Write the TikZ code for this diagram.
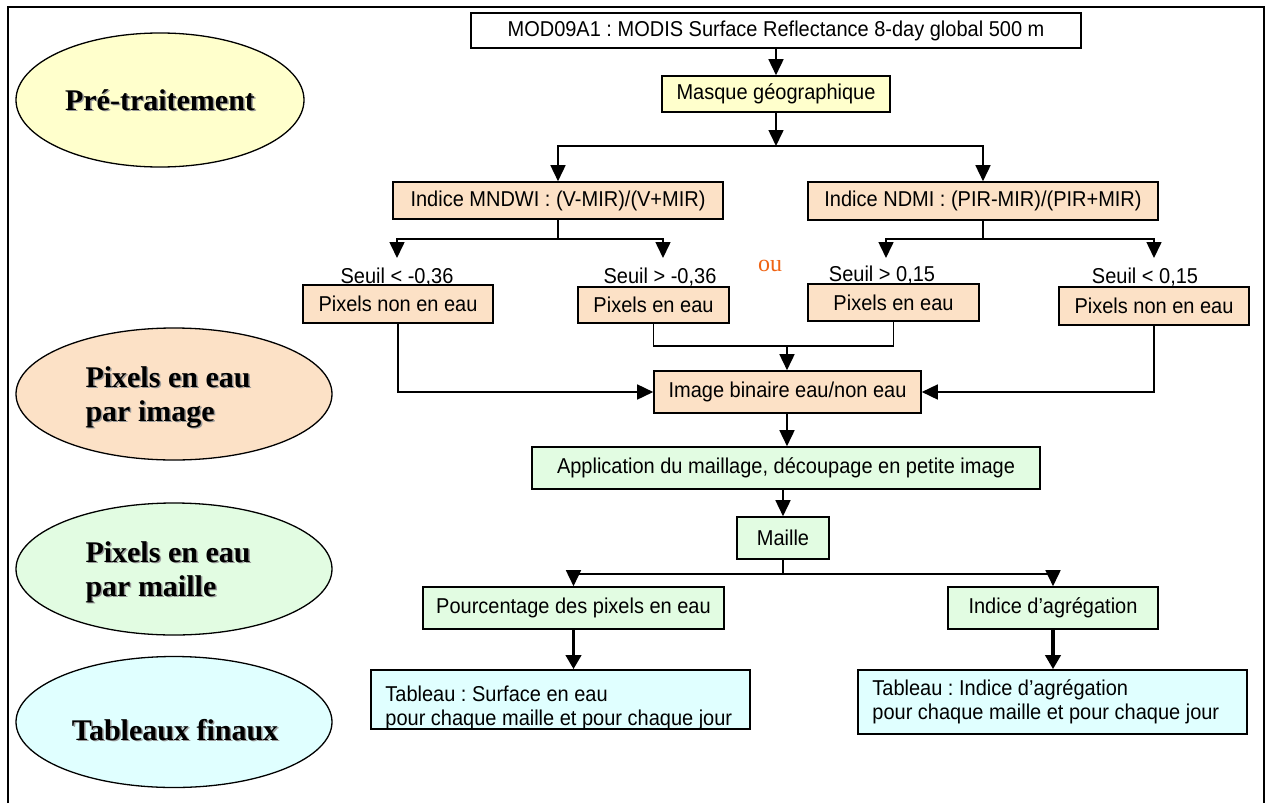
\documentclass[tikz,border=0pt]{standalone}
\usepackage{fontspec}
\setmainfont{Liberation Serif}
\setsansfont{Liberation Sans}
\newfontfamily\boxfont{Liberation Sans}[FakeStretch=0.93]
\usetikzlibrary{arrows.meta,shapes.geometric,calc}
\definecolor{cyel}{RGB}{255,255,204}
\definecolor{cpea}{RGB}{252,225,198}
\definecolor{cgre}{RGB}{226,252,226}
\definecolor{ccya}{RGB}{224,255,255}
\definecolor{cora}{RGB}{240,100,20}
\AtBeginDocument{\frenchspacing}
\begin{document}
\begin{tikzpicture}[x=1pt,y=-1pt,
  box/.style={draw, line width=1.6pt, inner sep=0pt, font=\boxfont\fontsize{21.5}{24}\selectfont\frenchspacing},
  phase/.style={draw, ellipse, line width=1.3pt, inner sep=0pt},
  phtxt/.style={font=\rmfamily\bfseries\fontsize{30}{34}\selectfont, align=left, inner sep=0pt},
  shad/.style={phtxt, text=black!40},
  lbl/.style={font=\boxfont\fontsize{21.5}{24}\selectfont\frenchspacing, inner sep=0pt},
  conn/.style={line width=1.6pt},
  arr/.style={conn, -{Triangle[width=15pt,length=16pt]}},
  tarr/.style={line width=3.5pt, -{Triangle[width=15pt,length=14pt]}},
]
\useasboundingbox (0,0) rectangle (1268,803);
\fill[white] (0,0) rectangle (1268,803);
% frame
\draw[line width=1.3pt] (8,803) -- (8,7) -- (1264,7) -- (1264,803);

% phase ellipses
\node[phase, fill=cyel, minimum width=288pt, minimum height=134pt] (pre) at (160,100) {};
\node[phase, fill=cpea, minimum width=316pt, minimum height=132pt] (pim) at (174,394) {};
\node[phase, fill=cgre, minimum width=316pt, minimum height=132pt] (pma) at (174,569) {};
\node[phase, fill=ccya, minimum width=316pt, minimum height=131pt] (tfi) at (174,722) {};

\node[shad] at ($(pre)+(1.5,1.5)$) {Pré-traitement};
\node[phtxt] (pret) at (pre) {Pré-traitement};
\node[shad] at ($(pim)+(-4.5,4.5)$) {Pixels en eau\\par image};
\node[phtxt] (pimt) at ($(pim)+(-6,3)$) {Pixels en eau\\par image};
\node[shad] at ($(pma)+(-4.5,4.5)$) {Pixels en eau\\par maille};
\node[phtxt] (pmat) at ($(pma)+(-6,3)$) {Pixels en eau\\par maille};
\node[shad] at ($(tfi)+(2.5,9.5)$) {Tableaux finaux};
\node[phtxt] (tfit) at ($(tfi)+(1,8)$) {Tableaux finaux};

% boxes
\node[box, fill=white, minimum width=610pt, minimum height=35pt] (mod) at (776,30.5) {MOD09A1 : MODIS Surface Reflectance 8-day global 500 m};
\node[box, fill=cyel, minimum width=228pt, minimum height=36pt] (mas) at (776,94) {Masque géographique};
\node[box, fill=cpea, minimum width=330pt, minimum height=37pt] (mnd) at (558,200.5) {Indice MNDWI : (V-MIR)/(V+MIR)};
\node[box, fill=cpea, minimum width=350pt, minimum height=38pt] (ndm) at (983,201) {Indice NDMI : (PIR-MIR)/(PIR+MIR)};
\node[box, fill=cpea, minimum width=190pt, minimum height=38pt] (pn1) at (398,304) {Pixels non en eau};
\node[box, fill=cpea, minimum width=151pt, minimum height=36pt] (pe1) at (653.5,305) {Pixels en eau};
\node[box, fill=cpea, minimum width=171pt, minimum height=37pt] (pe2) at (893.5,302.5) {Pixels en eau};
\node[box, fill=cpea, minimum width=190pt, minimum height=38pt] (pn2) at (1154,306) {Pixels non en eau};
\node[box, fill=cpea, minimum width=267pt, minimum height=42pt] (ib) at (787.5,392) {Image binaire eau/non eau};
\node[box, fill=cgre, minimum width=508pt, minimum height=42pt] (app) at (786,468) {Application du maillage, découpage en petite image};
\node[box, fill=cgre, minimum width=92pt, minimum height=42pt] (mai) at (783,538) {Maille};
\node[box, fill=cgre, minimum width=301pt, minimum height=42pt] (pct) at (573.5,608) {Pourcentage des pixels en eau};
\node[box, fill=cgre, minimum width=210pt, minimum height=42pt] (agr) at (1053,608) {Indice d’agrégation};
\node[box, fill=ccya, minimum width=379pt, minimum height=59pt] (tb1) at (560.5,699.5) {};
\node[box, fill=ccya, minimum width=389pt, minimum height=64pt] (tb2) at (1052.5,702) {};
\node[lbl, anchor=west, align=left] (tb1t) at ($(tb1.west)+(15,8)$) {Tableau : Surface en eau\\pour chaque maille et pour chaque jour};
\node[lbl, anchor=west, align=left] (tb2t) at ($(tb2.west)+(15,0)$) {Tableau : Indice d’agrégation\\pour chaque maille et pour chaque jour};

% threshold labels
\node[lbl] (s1) at (397,277) {Seuil < -0,36};
\node[lbl] (s2) at (660,277) {Seuil > -0,36};
\node[lbl] (s3) at (882,275) {Seuil > 0,15};
\node[lbl] (s4) at (1145,277) {Seuil < 0,15};
\node[font=\rmfamily\fontsize{24}{28}\selectfont, text=cora, inner sep=0pt] (ou) at (770,266) {ou};

% junction coordinates
\coordinate (j1) at (776,146);
\coordinate (t1) at (397,258);
\coordinate (t2) at (663,258);
\coordinate (t3) at (886,258);
\coordinate (t4) at (1154,258);
\coordinate (jb) at (787,346);
\coordinate (jm) at (783,574);

% connectors
\draw[arr] (mod.south -| mas.north) -- (mas.north);
\draw[arr] (mas.south) -- (j1);
\draw[arr] (j1) -| (mnd.north);
\draw[arr] (j1) -| (ndm.north);
\draw[arr] (mnd.south) -- ++(0,19) -| (t1);
\draw[arr] (mnd.south) -- ++(0,19) -| (t2);
\draw[arr] (ndm.south) -- ++(0,18) -| (t3);
\draw[arr] (ndm.south) -- ++(0,18) -| (t4);
\draw[arr] (pn1.south) |- (ib.west);
\draw[arr] (pn2.south) |- (ib.east);
\draw[conn] (pe1.south) |- (jb);
\draw[conn] (pe2.south) |- (jb);
\draw[arr] (jb) -- (jb |- ib.north);
\draw[arr] (ib.south -| jb) -- (jb |- app.north);
\draw[arr] (app.south -| mai.north) -- (mai.north);
\draw[conn] (mai.south) -- (jm);
\draw[arr] (jm) -| (pct.north);
\draw[arr] (jm) -| (agr.north);
\draw[tarr] (pct.south) -- (pct.south |- tb1.north);
\draw[tarr] (agr.south) -- (agr.south |- tb2.north);
\end{tikzpicture}
\end{document}
